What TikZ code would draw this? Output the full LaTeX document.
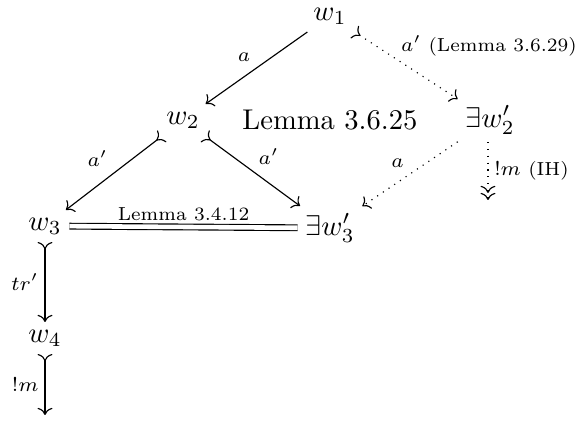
\documentclass[tikz,border=0pt]{standalone}
\usepackage{amsmath,amssymb}
\usepackage{tikz}
\usetikzlibrary{arrows.meta}
\tikzset{
  ob/.style={inner sep=2.5pt},
  ar/.style={-{Computer Modern Rightarrow}},
  tl/.style={{Computer Modern Rightarrow[reversed]}-{Computer Modern Rightarrow}},
  lb/.style={font=\fontsize{6.6}{8}\selectfont,inner sep=2pt}
}
\begin{document}
\begin{tikzpicture}[x=0.0123cm,y=-0.0123cm]
\useasboundingbox (0,0) rectangle (585,423);
% objects
\node[ob] (w1) at (330,16) {$w_1$};
\node[ob] (w2) at (183,120) {$w_2$};
\node (lem) at (330,120) {Lemma 3.6.25};
\node[ob] (w2p) at (490,120) {$\exists w_2'$};
\node[ob] (w3) at (45,226) {$w_3$};
\node[ob] (w3p) at (330,228) {$\exists w_3'$};
\node[ob] (w4) at (45,338) {$w_4$};
\coordinate (e1) at (45,415);
\coordinate (e2) at (488,200);
% arrows
\draw[ar] (w1) -- node[lb,above left]{$a$} (w2);
\draw[tl,dotted] (w1) -- node[lb,above right,pos=.42,inner sep=1pt]{$a'$ (Lemma 3.6.29)} (w2p);
\draw[tl] (w2) -- node[lb,above left]{$a'$} (w3);
\draw[tl] (w2) -- node[lb,above right]{$a'$} (w3p);
\draw[ar,dotted] (w2p) -- node[lb,above left]{$a$} (w3p);
\draw[dotted,-{Computer Modern Rightarrow[]Computer Modern Rightarrow[]}] (w2p.south -| e2) -- node[lb,right]{$!m$\ (IH)} (e2);
\draw[double,double distance=1.6pt] (w3) -- node[lb,above]{Lemma 3.4.12} (w3p);
\draw[tl] (w3) -- node[lb,left]{$tr'$} (w4);
\draw[tl] (w4) -- node[lb,left]{$!m$} (e1);
\end{tikzpicture}
\end{document}
